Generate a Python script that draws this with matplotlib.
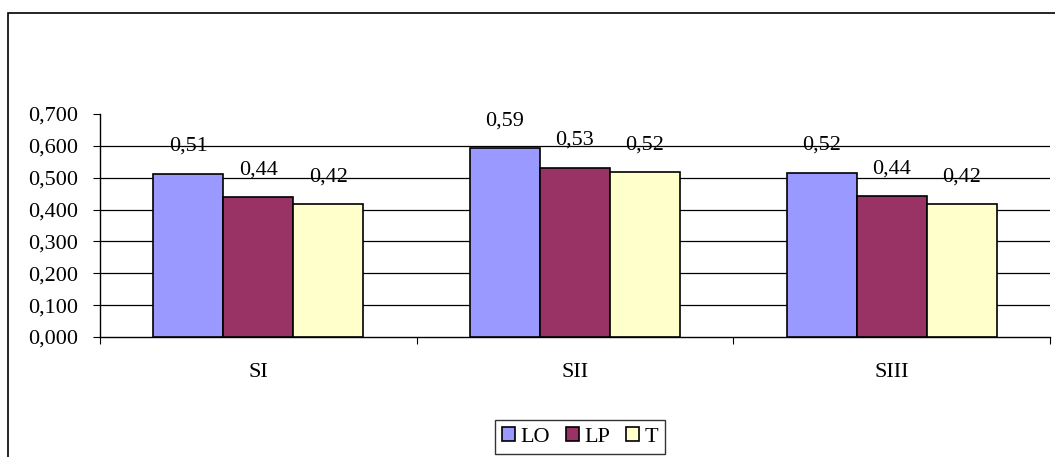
import matplotlib.pyplot as plt
from matplotlib.patches import Rectangle
import numpy as np

categories = ["SI", "SII", "SIII"]
series = ["LO", "LP", "T"]
lo_values = [0.513, 0.594, 0.516]
lp_values = [0.438, 0.532, 0.443]
t_values = [0.418, 0.519, 0.418]
colors = ["#9999FF", "#993366", "#FFFFCC"]
y_ticks = [0.0, 0.1, 0.2, 0.3, 0.4, 0.5, 0.6, 0.7]

plt.rcParams['font.family'] = ['Liberation Serif', 'DejaVu Serif']
fs = 16

fig = plt.figure(figsize=(10.55, 4.57), dpi=100)
ax = fig.add_axes([100 / 1055, 1 - 337 / 457, 950 / 1055, (337 - 114) / 457])

x = np.arange(len(categories))
width = 0.221
all_values = [lo_values, lp_values, t_values]

for i, vals in enumerate(all_values):
    pos = x + (i - 1) * width
    ax.bar(pos, vals, width, color=colors[i], edgecolor='black', linewidth=1.2,
           label=series[i], zorder=3)
    for p, v in zip(pos, vals):
        ax.text(p, v + 0.085, ("%.2f" % v).replace(".", ","), ha='center',
                va='center', fontsize=fs, zorder=4)

for g in y_ticks[1:-1]:
    ax.axhline(g, color='black', linewidth=0.9, zorder=1)

ax.set_xlim(-0.5, 2.5)
ax.set_ylim(0, 0.7)
ax.set_yticks(y_ticks)
ax.set_yticklabels([("%.3f" % t).replace(".", ",") for t in y_ticks], fontsize=fs)

# category ticks sit on the group boundaries
ax.set_xticks([-0.5, 0.5, 1.5, 2.5])
ax.set_xticklabels([])
ax.set_xticks(x, minor=True)
ax.set_xticklabels(categories, minor=True, fontsize=fs)
ax.tick_params(axis='x', which='minor', length=0, pad=19)
ax.tick_params(axis='x', which='major', length=5, direction='out', color='black')
ax.tick_params(axis='y', length=5, direction='out', pad=11)

ax.spines['top'].set_visible(False)
ax.spines['right'].set_visible(False)
ax.spines['left'].set_linewidth(1.0)
ax.spines['bottom'].set_linewidth(1.0)

leg = ax.legend(loc='center', bbox_to_anchor=(580 / 1055, 1 - 437 / 457),
                bbox_transform=fig.transFigure, ncol=3, fontsize=fs,
                frameon=True, fancybox=False, edgecolor='black',
                handlelength=0.6, handleheight=0.6, handletextpad=0.25,
                columnspacing=0.7, borderpad=0.3, borderaxespad=0)
leg.get_frame().set_linewidth(1.0)

# outer chart border (cut off on the right and bottom)
fig.patches.append(Rectangle((8 / 1055, -0.1), 1.2, 1 - 13 / 457 + 0.1,
                             transform=fig.transFigure, fill=False,
                             edgecolor='black', linewidth=1.2))

fig.savefig("out.png", dpi=100)
